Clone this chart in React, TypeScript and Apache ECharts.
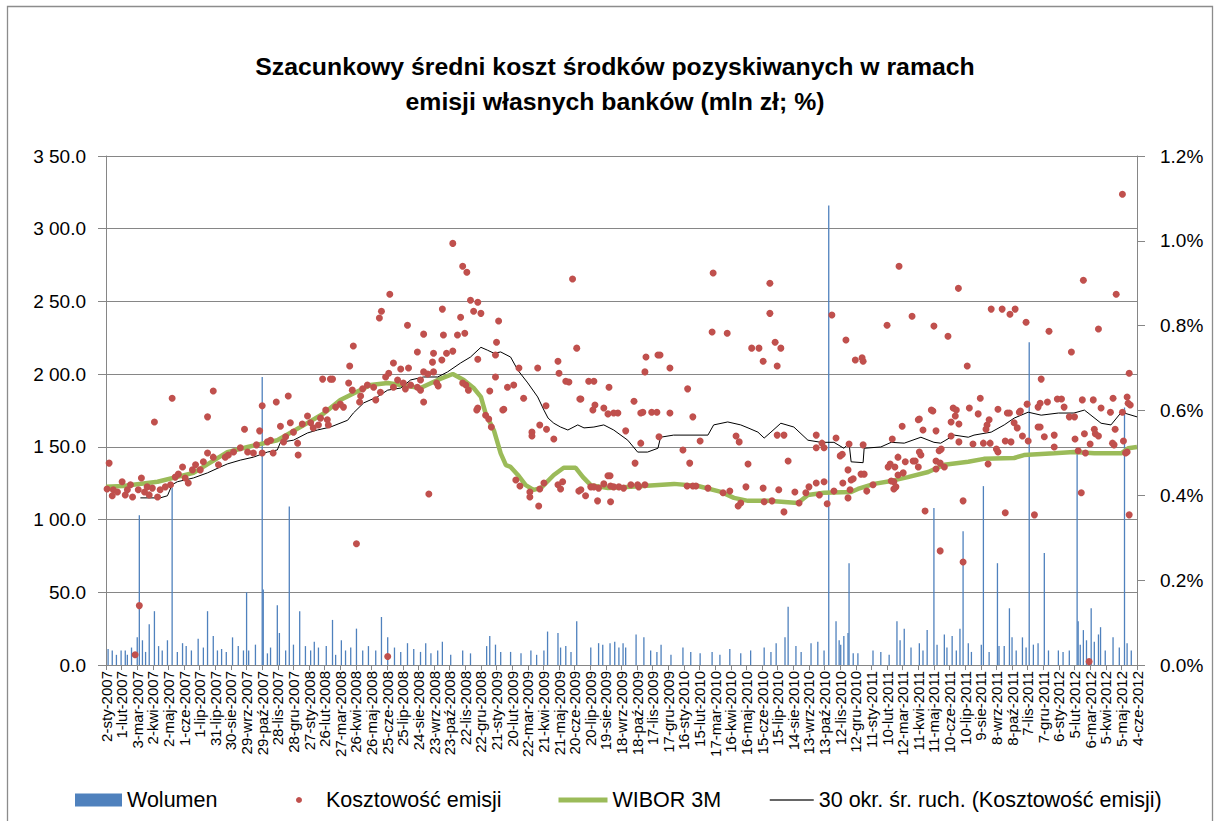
import React, { useEffect, useRef } from "react";
import * as echarts from "echarts";

const START_UTC = Date.UTC(2007, 0, 2);
const MONTHS_PL = ["sty", "lut", "mar", "kwi", "maj", "cze", "lip", "sie", "wrz", "paź", "lis", "gru"];
const LEFT_TICK_LABELS = ["0.0", "50.0", "1 00.0", "1 50.0", "2 00.0", "2 50.0", "3 00.0", "3 50.0"];
const RIGHT_TICK_LABELS = ["0.0%", "0.2%", "0.4%", "0.6%", "0.8%", "1.0%", "1.2%"];
const SERIES_NAMES = ["Wolumen", "Kosztowość emisji", "WIBOR 3M", "30 okr. śr. ruch. (Kosztowość emisji)"];
const TITLE_LINES = ["Szacunkowy średni koszt środków pozyskiwanych w ramach", "emisji własnych banków (mln zł; %)"];

// [days since 2-sty-2007, mln zł]
const wolumen: [number, number][] = [
  [4,11],[12,10],[20,7],[29,10],[37,10],[41,7],[49,12],[60,19],[64,103],[70,17],[76,9],[83,28],[93,37],[101,13],[108,10],[118,17],[127,122],[137,9],[147,15],[154,13],[164,10],[177,18],[187,12],[195,37],[206,20],[214,10],[222,11],[231,9],[243,19],[254,13],[264,10],[270,50],[274,10],[287,14],[300,198],[302,52],[310,8],[316,12],[329,41],[333,22],[345,10],[352,109],[360,14],[372,37],[383,13],[393,10],[400,16],[408,12],[423,13],[435,31],[441,7],[452,17],[460,10],[470,12],[481,25],[493,10],[504,13],[518,10],[529,33],[541,19],[554,12],[566,9],[579,15],[591,11],[604,9],[614,15],[624,8],[637,10],[646,16],[662,7],[685,10],[700,8],[731,13],[737,20],[748,14],[758,9],[777,9],[797,8],[816,10],[827,7],[841,10],[848,23],[868,22],[873,12],[883,13],[893,9],[904,30],[931,12],[946,15],[954,14],[968,15],[977,16],[985,12],[993,15],[998,12],[1018,21],[1033,19],[1046,10],[1058,9],[1066,14],[1085,7],[1108,12],[1123,9],[1141,8],[1164,9],[1179,7],[1198,11],[1219,8],[1238,10],[1264,12],[1277,9],[1287,15],[1304,19],[1310,40],[1325,13],[1335,9],[1354,15],[1367,16],[1379,10],[1388,316],[1402,30],[1408,17],[1411,14],[1417,20],[1425,22],[1427,70],[1435,8],[1444,8],[1473,10],[1488,9],[1504,7],[1519,30],[1525,17],[1533,25],[1546,12],[1562,15],[1569,10],[1577,24],[1590,108],[1596,14],[1610,21],[1615,12],[1625,20],[1633,10],[1640,25],[1646,92],[1656,15],[1662,9],[1681,14],[1685,123],[1696,9],[1712,70],[1715,13],[1725,13],[1735,39],[1740,19],[1748,10],[1760,19],[1767,12],[1773,222],[1781,14],[1790,15],[1802,77],[1810,10],[1829,10],[1838,9],[1850,10],[1865,146],[1867,30],[1871,14],[1877,24],[1883,17],[1892,39],[1898,16],[1906,21],[1910,26],[1919,10],[1934,19],[1946,12],[1956,177],[1961,15],[1969,10]
];

// [days since 2-sty-2007, %]
const kosztowosc: [number, number][] = [
  [2,0.415],[6,0.476],[14,0.413],[12,0.399],[22,0.408],[31,0.432],[37,0.401],[41,0.413],[47,0.425],[51,0.396],[62,0.413],[68,0.441],[74,0.408],[79,0.420],[83,0.401],[89,0.417],[99,0.396],[93,0.573],[64,0.140],[56,0.024],
  [104,0.413],[114,0.420],[124,0.425],[133,0.443],[139,0.450],[147,0.467],[152,0.441],[158,0.429],[166,0.460],[172,0.472],[181,0.460],[187,0.479],[195,0.500],[195,0.585],[206,0.490],[216,0.472],[229,0.490],[235,0.495],[245,0.502],[258,0.512],[266,0.556],[272,0.502],[283,0.500],[289,0.519],[295,0.552],[300,0.500],[310,0.526],[316,0.530],[321,0.500],[335,0.563],[341,0.526],[345,0.538],[354,0.571],[360,0.549],[368,0.523],[369,0.495],[377,0.568],[387,0.587],[393,0.571],[398,0.559],[408,0.566],[412,0.582],[425,0.578],[427,0.566],
  [127,0.629],[206,0.646],[300,0.611],[327,0.620],[350,0.634],[416,0.674],[422,0.601],[431,0.674],
  [666,0.994],[685,0.940],[693,0.926],[545,0.874],[529,0.834],[525,0.818],[475,0.752],[468,0.705],[579,0.801],[598,0.738],[610,0.780],[629,0.735],[645,0.719],[627,0.714],[648,0.778],[646,0.839],[654,0.735],[666,0.740],[675,0.778],[681,0.820],[689,0.782],[700,0.860],[714,0.855],[706,0.834],[720,0.829],[754,0.811],[750,0.761],[714,0.721],[748,0.731],[793,0.700],[829,0.700],[896,0.910],[904,0.747],[868,0.716],[870,0.688],[883,0.669],[889,0.667],[927,0.669],[910,0.627],[845,0.611],[802,0.629],[771,0.655],[783,0.660],[737,0.646],[748,0.679],[714,0.606],[691,0.660],[696,0.648],[685,0.665],[764,0.603],[610,0.620],[610,0.691],[618,0.686],[629,0.691],[566,0.698],[581,0.700],[552,0.712],[543,0.688],[537,0.679],[560,0.672],[571,0.665],[585,0.660],[598,0.655],[604,0.648],[635,0.665],[638,0.658],[575,0.651],[604,0.672],[514,0.655],[502,0.660],[493,0.651],[489,0.634],[473,0.648],[466,0.665],[435,0.674],[450,0.615],[456,0.608],[441,0.608],[487,0.620],[518,0.625],[552,0.655],[527,0.643],
  [729,0.589],[735,0.580],[740,0.561],[762,0.601],[712,0.601],[818,0.549],[818,0.540],[833,0.566],[846,0.556],[860,0.533],[787,0.436],[795,0.422],[814,0.408],[814,0.396],[831,0.375],[833,0.415],[841,0.429],[868,0.425],[877,0.432],[873,0.415],[908,0.410],[921,0.399],[931,0.420],[620,0.403],[481,0.286],[541,0.020],
  [1166,0.924],[1275,0.900],[1275,0.829],[1164,0.785],[1193,0.782],[1394,0.825],[1421,0.766],[1240,0.747],[1254,0.747],[1285,0.761],[1296,0.747],[1262,0.716],[1289,0.705],[1037,0.726],[1060,0.731],[1064,0.731],[1035,0.691],[1083,0.700],[937,0.669],[966,0.655],[912,0.627],[939,0.613],[935,0.601],[956,0.606],[964,0.592],[975,0.594],[983,0.594],[1014,0.622],[1031,0.596],[1027,0.594],[1048,0.596],[1058,0.596],[1083,0.594],[1117,0.651],[1127,0.585],
  [998,0.552],[1062,0.538],[1027,0.523],[1141,0.528],[1108,0.507],[1210,0.540],[1216,0.526],[1233,0.474],[1289,0.542],[1302,0.542],[1310,0.481],[1016,0.476],[1121,0.476],[1364,0.542],[1364,0.512],[1375,0.523],[1379,0.512],[1402,0.535],[1414,0.497],[1427,0.521],[1425,0.460],[1431,0.436],[1425,0.394],[1415,0.429],[1398,0.410],[1385,0.380],[1379,0.432],[1370,0.401],[1364,0.429],[1350,0.420],[1344,0.406],[1331,0.382],[1302,0.361],[1323,0.408],[1292,0.413],[1279,0.387],[1264,0.385],[1262,0.417],[1229,0.420],[1219,0.382],[1214,0.375],[1198,0.410],[1185,0.406],[1156,0.417],[1133,0.422],[1127,0.422],[1116,0.422],[1035,0.425],[1023,0.420],[1021,0.425],[1008,0.425],[994,0.417],[985,0.420],[975,0.420],[969,0.422],[956,0.427],[946,0.417],[937,0.420],[964,0.446],[968,0.446],[944,0.387],[969,0.385],[912,0.413],
  [1952,1.110],[1523,0.940],[1637,0.888],[1877,0.907],[1940,0.874],[1700,0.839],[1721,0.839],[1736,0.827],[1746,0.839],[1767,0.808],[1500,0.801],[1548,0.822],[1590,0.799],[1617,0.775],[1811,0.787],[1906,0.792],[1439,0.719],[1452,0.724],[1454,0.716],[1654,0.705],[1854,0.738],[1796,0.674],[1965,0.688],[1769,0.615],[1794,0.617],[1808,0.620],[1827,0.627],[1835,0.627],[1875,0.625],[1896,0.625],[1934,0.629],[1961,0.632],[1967,0.613],[1963,0.617],[1679,0.629],[1627,0.606],[1658,0.606],[1713,0.603],[1588,0.599],[1735,0.594],[1756,0.599],[1840,0.608],[1911,0.606],[1929,0.596],[1952,0.596],[1790,0.608],[1631,0.587],[1562,0.580],
  [1585,0.601],[1633,0.601],[1675,0.592],[1731,0.594],[1754,0.596],[1529,0.563],[1560,0.578],[1594,0.552],[1623,0.573],[1638,0.568],[1692,0.566],[1696,0.578],[1690,0.556],[1744,0.571],[1750,0.559],[1790,0.561],[1794,0.561],[1802,0.538],[1821,0.542],[1850,0.585],[1860,0.585],[1879,0.545],[1898,0.556],[1900,0.545],[1906,0.540],[1938,0.556],[1981,0.542],[1760,0.540],[1510,0.533],[1569,0.554],[1623,0.540],[1638,0.526],[1665,0.521],[1685,0.523],[1698,0.523],[1727,0.528],[1738,0.526],[1771,0.528],[1821,0.514],[1861,0.533],[1890,0.521],[1867,0.505],[1881,0.500],[1933,0.523],[1936,0.519],[1954,0.528],[1958,0.500],[1961,0.502],[1710,0.509],[1713,0.502],[1694,0.474],[1604,0.509],[1600,0.505],[1562,0.502],[1565,0.495],[1594,0.481],[1602,0.476],[1610,0.467],[1594,0.462],[1560,0.467],[1535,0.479],[1550,0.481],[1554,0.481],[1521,0.490],[1506,0.474],[1515,0.467],[1502,0.467],[1531,0.453],[1521,0.448],[1513,0.432],[1517,0.420],[1513,0.415],[1508,0.434],[1450,0.450],[1456,0.450],[1435,0.439],[1410,0.493],[1429,0.413],[1461,0.410],[1473,0.425],[1454,0.519],[1573,0.363],[1646,0.387],[1727,0.359],[1783,0.354],[1873,0.406],[1965,0.354],[1602,0.269],[1646,0.243],[1888,0.008]
];

// [days since 2-sty-2007, %]
const wibor3m: [number, number][] = [
  [0,0.420],[33,0.422],[99,0.432],[168,0.453],[233,0.502],[272,0.514],[329,0.530],[379,0.565],[418,0.593],[450,0.625],[508,0.660],[541,0.665],[604,0.653],[637,0.672],[666,0.686],[687,0.672],[706,0.653],[720,0.632],[729,0.593],[745,0.553],[758,0.499],[768,0.471],[777,0.467],[791,0.448],[806,0.424],[821,0.413],[835,0.417],[860,0.448],[879,0.465],[902,0.465],[916,0.443],[931,0.424],[964,0.417],[1008,0.420],[1091,0.427],[1137,0.422],[1181,0.408],[1206,0.394],[1233,0.387],[1271,0.387],[1329,0.382],[1348,0.401],[1379,0.406],[1431,0.408],[1444,0.415],[1475,0.427],[1508,0.434],[1540,0.443],[1579,0.455],[1610,0.472],[1656,0.479],[1686,0.486],[1744,0.488],[1763,0.495],[1821,0.499],[1859,0.502],[1898,0.499],[1950,0.499],[1963,0.511],[1980,0.514]
];

// [days since 2-sty-2007, %]
const sredniaRuchoma: [number, number][] = [
  [66,0.394],[104,0.394],[118,0.399],[127,0.425],[137,0.432],[168,0.441],[195,0.453],[220,0.467],[233,0.474],[258,0.483],[283,0.490],[310,0.502],[329,0.507],[335,0.525],[360,0.530],[387,0.547],[406,0.554],[431,0.561],[464,0.577],[475,0.594],[495,0.618],[521,0.632],[541,0.648],[566,0.653],[585,0.672],[610,0.679],[637,0.679],[656,0.691],[681,0.712],[700,0.726],[720,0.749],[733,0.742],[745,0.735],[758,0.738],[777,0.726],[791,0.695],[810,0.665],[829,0.632],[841,0.601],[849,0.582],[860,0.570],[873,0.561],[887,0.554],[906,0.566],[918,0.559],[937,0.561],[956,0.566],[975,0.554],[1002,0.530],[1021,0.502],[1040,0.502],[1060,0.511],[1065,0.537],[1090,0.542],[1156,0.542],[1167,0.566],[1194,0.573],[1219,0.566],[1233,0.559],[1252,0.549],[1264,0.535],[1277,0.549],[1296,0.570],[1321,0.561],[1348,0.530],[1373,0.525],[1398,0.525],[1417,0.511],[1427,0.523],[1431,0.479],[1454,0.477],[1456,0.511],[1488,0.514],[1508,0.525],[1533,0.523],[1565,0.537],[1590,0.525],[1603,0.523],[1629,0.542],[1656,0.537],[1667,0.542],[1700,0.549],[1725,0.566],[1744,0.582],[1771,0.596],[1796,0.589],[1829,0.594],[1859,0.594],[1879,0.601],[1911,0.570],[1930,0.566],[1950,0.596],[1980,0.585]
];

const FONT = "'Liberation Sans', Arial, sans-serif";
const GRID_COLOR = "#868686";

function dayLabel(v: number): string {
  const d = new Date(START_UTC + Math.round(v) * 86400000);
  return `${d.getUTCDate()}-${MONTHS_PL[d.getUTCMonth()]}-${d.getUTCFullYear()}`;
}

export default function App() {
  const ref = useRef<HTMLDivElement>(null);
  useEffect(() => {
    if (!ref.current) return;
    const chart = echarts.init(ref.current, null, { renderer: "svg" });
    const legendText = { fontFamily: FONT, fontSize: 21.5, color: "#000" };
    chart.setOption({
      animation: false,
      backgroundColor: "#fff",
      textStyle: { fontFamily: FONT },
      graphic: [
        { type: "rect", shape: { x: 7.5, y: 6.5, width: 1205, height: 830 }, style: { fill: "none", stroke: "#8c8c8c", lineWidth: 1.3 }, silent: true },
        { type: "text", x: 615, y: 66, style: { text: TITLE_LINES[0], fontFamily: FONT, fontSize: 24.8, fontWeight: "bold", fill: "#000", align: "center", verticalAlign: "middle" } },
        { type: "text", x: 615, y: 101, style: { text: TITLE_LINES[1], fontFamily: FONT, fontSize: 24.8, fontWeight: "bold", fill: "#000", align: "center", verticalAlign: "middle" } },
      ],
      legend: [
        { data: [{ name: SERIES_NAMES[0], icon: "rect" }], left: 75, top: 789, padding: 0, itemWidth: 47, itemHeight: 13, textStyle: legendText, selectedMode: false },
        { data: [{ name: SERIES_NAMES[1], icon: "circle" }], left: 296, top: 789, padding: 0, itemWidth: 44, itemHeight: 6, textStyle: legendText, selectedMode: false },
        { data: [{ name: SERIES_NAMES[2] }], left: 556, top: 789, padding: 0, itemWidth: 49, itemHeight: 1, lineStyle: { width: 5, color: "#9BBB59" }, itemStyle: { color: "#9BBB59" }, textStyle: legendText, selectedMode: false },
        { data: [{ name: SERIES_NAMES[3] }], left: 769, top: 789, padding: 0, itemWidth: 44, itemHeight: 1, lineStyle: { width: 1.5, color: "#333" }, itemStyle: { color: "#333" }, textStyle: legendText, selectedMode: false },
      ],
      grid: { left: 106, right: 83, top: 156, bottom: 156, containLabel: false },
      xAxis: {
        type: "value",
        min: 0,
        max: 1980,
        interval: 30,
        axisLine: { show: true, lineStyle: { color: GRID_COLOR, width: 1 } },
        axisTick: { show: true, length: 5, lineStyle: { color: GRID_COLOR } },
        splitLine: { show: false },
        axisLabel: { rotate: 90, fontSize: 15, color: "#000", margin: 6, fontFamily: FONT, showMinLabel: true, showMaxLabel: true, formatter: (v: number) => dayLabel(v) },
      },
      yAxis: [
        {
          type: "value",
          min: 0,
          max: 350,
          interval: 50,
          position: "left",
          axisLine: { show: true, lineStyle: { color: GRID_COLOR } },
          axisTick: { show: true, length: 8, lineStyle: { color: GRID_COLOR } },
          splitLine: { show: true, lineStyle: { color: GRID_COLOR, width: 1 } },
          axisLabel: { fontSize: 19, color: "#000", margin: 20, fontFamily: FONT, formatter: (v: number) => LEFT_TICK_LABELS[Math.round(v / 50)] },
        },
        {
          type: "value",
          min: 0,
          max: 1.2,
          interval: 0.2,
          position: "right",
          axisLine: { show: true, lineStyle: { color: GRID_COLOR } },
          axisTick: { show: true, length: 8, lineStyle: { color: GRID_COLOR } },
          splitLine: { show: false },
          axisLabel: { fontSize: 19, color: "#000", margin: 23, fontFamily: FONT, formatter: (v: number) => RIGHT_TICK_LABELS[Math.round(v / 0.2)] },
        },
      ],
      series: [
        { name: SERIES_NAMES[0], type: "bar", yAxisIndex: 0, data: wolumen, barWidth: 1.3, itemStyle: { color: "#4F81BD" }, z: 1 },
        { name: SERIES_NAMES[2], type: "line", yAxisIndex: 1, data: wibor3m, symbol: "none", showSymbol: false, lineStyle: { color: "#9BBB59", width: 4.5 }, itemStyle: { color: "#9BBB59" }, z: 2 },
        { name: SERIES_NAMES[3], type: "line", yAxisIndex: 1, data: sredniaRuchoma, symbol: "none", showSymbol: false, lineStyle: { color: "#000", width: 1 }, itemStyle: { color: "#000" }, z: 3 },
        { name: SERIES_NAMES[1], type: "scatter", yAxisIndex: 1, data: kosztowosc, symbol: "circle", symbolSize: 7, itemStyle: { color: "#C0504D", opacity: 1 }, z: 4 },
      ],
    });
    return () => chart.dispose();
  }, []);
  return <div ref={ref} style={{ position: "fixed", left: 0, top: 0, width: 1220, height: 821, background: "#fff" }} />;
}
